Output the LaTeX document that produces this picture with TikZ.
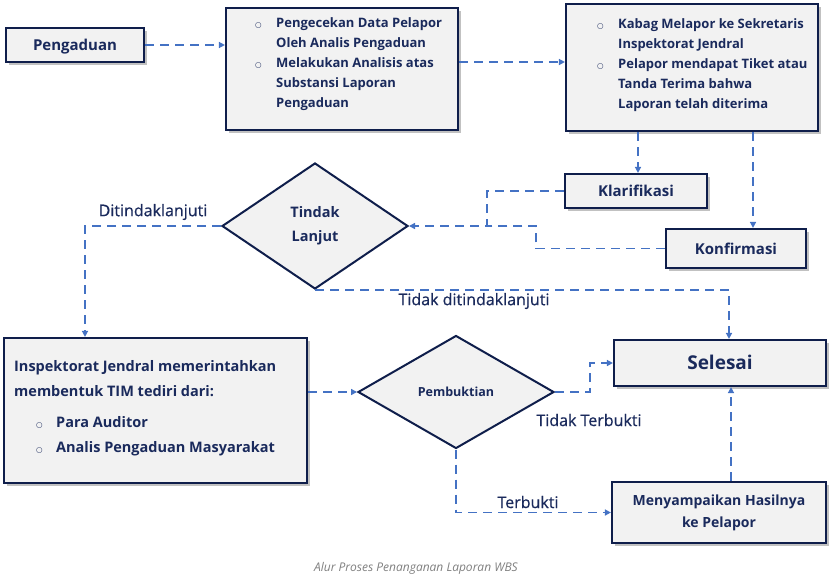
\documentclass[tikz,border=0pt]{standalone}
\usepackage{fontspec}
\setmainfont{Open Sans}
\newfontfamily\dejavu{DejaVu Sans}
\newfontfamily\semib{Open Sans}[FakeBold=0.6]
\usetikzlibrary{shapes.geometric,shadows,arrows.meta,calc}
\definecolor{navy}{HTML}{0F1E4B}
\definecolor{txt}{HTML}{1A2A5C}
\definecolor{boxfill}{HTML}{F2F2F2}
\definecolor{conn}{HTML}{4472C4}
\definecolor{capgray}{HTML}{808080}
\newcommand{\bulmark}{{\dejavu\fontsize{7.5}{7.5}\selectfont ○}}
\begin{document}
\begin{tikzpicture}[x=1pt,y=-1pt,
  procbox/.style={draw=navy, line width=2.2pt, fill=boxfill, inner sep=0pt,
    drop shadow={shadow xshift=2.5pt, shadow yshift=-2.5pt, fill=black!40, opacity=.6}},
  decision/.style={diamond, draw=navy, line width=2pt, fill=boxfill, inner sep=0pt,
    text=txt, align=center},
  boxtext/.style={text=txt, font=\bfseries\fontsize{15}{18}\selectfont, text height=14pt, text depth=3pt},
  listtext/.style={text=txt, inner sep=0pt, anchor=north west, align=left},
  flow/.style={draw=conn, line width=1.6pt, dash pattern=on 9pt off 6pt},
  arr/.style={flow, -{Triangle[length=6pt,width=6pt]}},
  lbl/.style={text=txt, font=\semib\fontsize{16}{18}\selectfont, inner sep=0pt}
]
\useasboundingbox (0,0) rectangle (833,587);
\fill[white] (0,0) rectangle (833,587);

% boxes
\node[procbox, boxtext, minimum width=138pt, minimum height=34pt] (peng) at (75,45) {Pengaduan};
\node[procbox, minimum width=232pt, minimum height=122pt] (rev) at (342,69) {};
\node[listtext, font=\bfseries\fontsize{13}{20}\selectfont] (revt) at (255,13.5)
  {\begin{tabular}{@{}p{21pt}@{}l@{}}
   \bulmark & Pengecekan Data Pelapor\\
            & Oleh Analis Pengaduan\\
   \bulmark & Melakukan Analisis atas\\
            & Substansi Laporan\\
            & Pengaduan
   \end{tabular}};
\node[procbox, minimum width=252pt, minimum height=127pt] (sek) at (692,67.5) {};
\node[listtext, font=\bfseries\fontsize{13}{20}\selectfont] (sekt) at (597,14.5)
  {\begin{tabular}{@{}p{21pt}@{}l@{}}
   \bulmark & Kabag Melapor ke Sekretaris\\
            & Inspektorat Jendral\\
   \bulmark & Pelapor mendapat Tiket atau\\
            & Tanda Terima bahwa\\
            & Laporan telah diterima
   \end{tabular}};
\node[procbox, boxtext, minimum width=142pt, minimum height=34pt] (klar) at (636,191) {Klarifikasi};
\node[procbox, boxtext, minimum width=140pt, minimum height=39pt] (konf) at (736,248.5) {Konfirmasi};

\node[decision, font=\bfseries\fontsize{14.5}{24}\selectfont, minimum width=186pt, minimum height=126pt] (tl) at (315,226) {Tindak\\Lanjut};

\node[procbox, minimum width=303pt, minimum height=145pt] (insp) at (155.5,410.5) {};
\node[listtext, font=\bfseries\fontsize{14.5}{25}\selectfont] (inspt) at (14,354)
  {\begin{tabular}{@{}p{42pt}@{}l@{}}
   \multicolumn{2}{@{}l@{}}{Inspektorat Jendral memerintahkan}\\
   \multicolumn{2}{@{}l@{}}{membentuk TIM tediri dari:}\\[6pt]
   \hspace{22pt}\bulmark & Para Auditor\\
   \hspace{22pt}\bulmark & Analis Pengaduan Masyarakat
   \end{tabular}};

\node[decision, font=\bfseries\fontsize{12.5}{15}\selectfont, minimum width=196pt, minimum height=113pt] (pemb) at (456,392) {Pembuktian};

\node[procbox, text=txt, font=\bfseries\fontsize{19}{22}\selectfont, text height=16pt, text depth=2.5pt, minimum width=212pt, minimum height=46pt] (sel) at (720,363) {Selesai};
\node[procbox, text=txt, align=center, font=\bfseries\fontsize{14}{22}\selectfont, minimum width=214pt, minimum height=61pt] (meny) at (719,512.5) {Menyampaikan Hasilnya\\ke Pelapor};

% connectors
\draw[arr] (peng.east) -- (peng.east -| rev.west);
\draw[arr] ([yshift=7pt]rev.east) -- ([yshift=7pt]rev.east -| sek.west);
\draw[arr] ([xshift=2pt]klar.north |- sek.south) -- ([xshift=2pt]klar.north);
\draw[arr] ([xshift=17pt]konf.north |- sek.south) -- ([xshift=17pt]konf.north);
\coordinate (k1) at (487,226);
\coordinate (k2) at (536,226);
\draw[flow] (konf.west) -| (k2) -- (k1);
\draw[arr] (klar.west) -| (k1) -- (tl.east);
\draw[arr] (tl.west) -| ([xshift=-70.5pt]insp.north);
\node[lbl] (lblDit) at (153,212) {Ditindaklanjuti};
\draw[arr] (tl.south) -| ([xshift=9pt]sel.north);
\node[lbl] (lblTdk) at (474,301) {Tidak ditindaklanjuti};
\draw[arr] (insp.east |- pemb.west) -- (pemb.west);
\draw[arr] (pemb.east) -- ++(35,0) |- (sel.west);
\node[lbl] (lblTT) at (589,420) {Tidak Terbukti};
\draw[arr] (pemb.south) |- (meny.west);
\node[lbl] (lblT) at (528,502) {Terbukti};
\draw[arr] ([xshift=12pt]meny.north) -- ([xshift=12pt]meny.north |- sel.south);

\node[text=capgray, font=\itshape\fontsize{12}{14}\selectfont] (cap) at (416,568) {Alur Proses Penanganan Laporan WBS};
\end{tikzpicture}
\end{document}
